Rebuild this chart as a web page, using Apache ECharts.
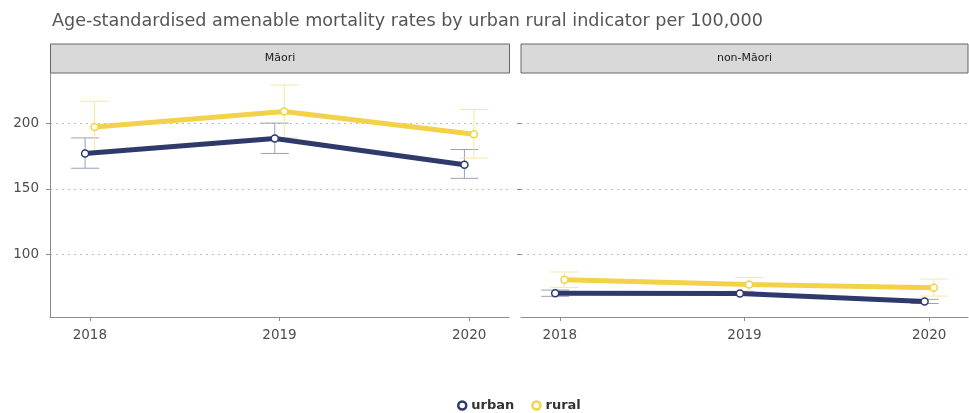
<!DOCTYPE html>
<html>
<head>
<meta charset="utf-8">
<script src="https://cdn.jsdelivr.net/npm/echarts@6/dist/echarts.min.js"></script>
<style>
  html, body { margin: 0; padding: 0; background: #fff; }
  #chart { width: 969px; height: 413px; }
</style>
</head>
<body>
<div id="chart"></div>
<script>
// data
var years = [2018, 2019, 2020];
var panels = ['Māori', 'non-Māori'];

var maoriUrban = [177, 188.4, 168.4];
var maoriUrbanLow = [165.7, 177, 158];
var maoriUrbanHigh = [188.9, 200.2, 180];
var maoriRural = [197.2, 209, 191.7];
var maoriRuralLow = [177.5, 189, 173.5];
var maoriRuralHigh = [216.9, 229.3, 210.6];

var nonMaoriUrban = [70.2, 70, 63.9];
var nonMaoriUrbanLow = [67.8, 68.5, 62.3];
var nonMaoriUrbanHigh = [72.6, 71.6, 65.5];
var nonMaoriRural = [80.5, 76.8, 74.3];
var nonMaoriRuralLow = [74.5, 71, 68];
var nonMaoriRuralHigh = [86.4, 82.2, 81];

var yTicks = [100, 150, 200];

var urbanColor = '#2e3a6c';
var ruralColor = '#f3d24a';
var dodge = 0.025; // side-by-side offset in years
var font = 'DejaVu Sans';

function pts(vals, shift) {
  return years.map(function (y, i) { return [y + shift, vals[i]]; });
}
function bars(lo, hi, shift) {
  return years.map(function (y, i) { return [y + shift, lo[i], hi[i]]; });
}

function errorBar(color) {
  return function (params, api) {
    var x = api.value(0);
    var top = api.coord([x, api.value(2)]);
    var bot = api.coord([x, api.value(1)]);
    var w = 14;
    var st = { stroke: color, lineWidth: 1 };
    return {
      type: 'group',
      children: [
        { type: 'line', shape: { x1: top[0], y1: top[1], x2: bot[0], y2: bot[1] }, style: st },
        { type: 'line', shape: { x1: top[0] - w, y1: top[1], x2: top[0] + w, y2: top[1] }, style: st },
        { type: 'line', shape: { x1: bot[0] - w, y1: bot[1], x2: bot[0] + w, y2: bot[1] }, style: st }
      ]
    };
  };
}

function lineSeries(name, data, color, idx) {
  return {
    name: name,
    type: 'line',
    xAxisIndex: idx,
    yAxisIndex: idx,
    data: data,
    symbol: 'circle',
    symbolSize: 7,
    lineStyle: { color: color, width: 5 },
    itemStyle: { color: '#fff', borderColor: color, borderWidth: 1.5 },
    z: 3,
    emphasis: { disabled: true }
  };
}

function barSeries(name, data, color, idx) {
  return {
    name: name,
    type: 'custom',
    xAxisIndex: idx,
    yAxisIndex: idx,
    data: data,
    renderItem: errorBar(color),
    encode: { x: 0, y: [1, 2] },
    itemStyle: { color: color },
    z: 1,
    silent: true
  };
}

var axisGray = '#8c8c8c';
var labelGray = '#4d4d4d';

function xAxis(idx) {
  return {
    type: 'value',
    gridIndex: idx,
    min: 2017.79,
    max: 2020.21,
    axisLine: { show: true, lineStyle: { color: axisGray, width: 1 } },
    axisTick: { show: true, length: 4, lineStyle: { color: axisGray }, customValues: years },
    axisLabel: { color: labelGray, fontSize: 13.5, margin: 11, customValues: years,
      fontFamily: font, formatter: function (v) { return String(v); } },
    splitLine: { show: false }
  };
}

function yAxis(idx) {
  return {
    type: 'value',
    gridIndex: idx,
    min: 52,
    max: 238.5,
    axisLine: { show: idx === 0, lineStyle: { color: axisGray, width: 1 } },
    axisTick: { show: true, length: 4, lineStyle: { color: axisGray }, customValues: yTicks },
    axisLabel: { show: idx === 0, color: labelGray, fontSize: 13.5, margin: 11, customValues: yTicks,
      fontFamily: font },
    splitLine: { show: true, lineStyle: { color: '#bdbdbd', type: [2, 4], width: 1 } }
  };
}

function strip(x, w, text) {
  return {
    type: 'group',
    children: [
      { type: 'rect', shape: { x: x, y: 44, width: w, height: 29 },
        style: { fill: '#d9d9d9', stroke: '#666', lineWidth: 1 } },
      { type: 'text', x: x + w / 2, y: 58.5,
        style: { text: text, fill: '#1a1a1a', font: '11px "DejaVu Sans"', align: 'center', verticalAlign: 'middle' } }
    ]
  };
}

var chart = echarts.init(document.getElementById('chart'));
chart.setOption({
  animation: false,
  backgroundColor: '#fff',
  title: {
    text: 'Age-standardised amenable mortality rates by urban rural indicator per 100,000',
    left: 47,
    top: 7,
    textStyle: { fontFamily: font, fontSize: 17.6, fontWeight: 'normal', color: '#555' }
  },
  legend: {
    top: 394,
    left: 452,
    data: [
      { name: 'urban', itemStyle: { color: '#fff', borderColor: urbanColor, borderWidth: 2.5 } },
      { name: 'rural', itemStyle: { color: '#fff', borderColor: ruralColor, borderWidth: 2.5 } }
    ],
    icon: 'circle',
    itemWidth: 8,
    itemHeight: 8,
    itemGap: 17,
    textStyle: { fontFamily: font, fontSize: 13, fontWeight: 'bold', color: '#333' }
  },
  graphic: [strip(50.5, 459, panels[0]), strip(521, 447, panels[1])],
  grid: [
    { left: 50, width: 459, top: 73, height: 244 },
    { left: 521, width: 447, top: 73, height: 244 }
  ],
  xAxis: [xAxis(0), xAxis(1)],
  yAxis: [yAxis(0), yAxis(1)],
  series: [
    barSeries('urban', bars(maoriUrbanLow, maoriUrbanHigh, -dodge), '#9aa0b8', 0),
    barSeries('rural', bars(maoriRuralLow, maoriRuralHigh, dodge), '#f6e7a2', 0),
    barSeries('urban', bars(nonMaoriUrbanLow, nonMaoriUrbanHigh, -dodge), '#9aa0b8', 1),
    barSeries('rural', bars(nonMaoriRuralLow, nonMaoriRuralHigh, dodge), '#f6e7a2', 1),
    lineSeries('urban', pts(maoriUrban, -dodge), urbanColor, 0),
    lineSeries('rural', pts(maoriRural, dodge), ruralColor, 0),
    lineSeries('urban', pts(nonMaoriUrban, -dodge), urbanColor, 1),
    lineSeries('rural', pts(nonMaoriRural, dodge), ruralColor, 1)
  ]
});
</script>
</body>
</html>
